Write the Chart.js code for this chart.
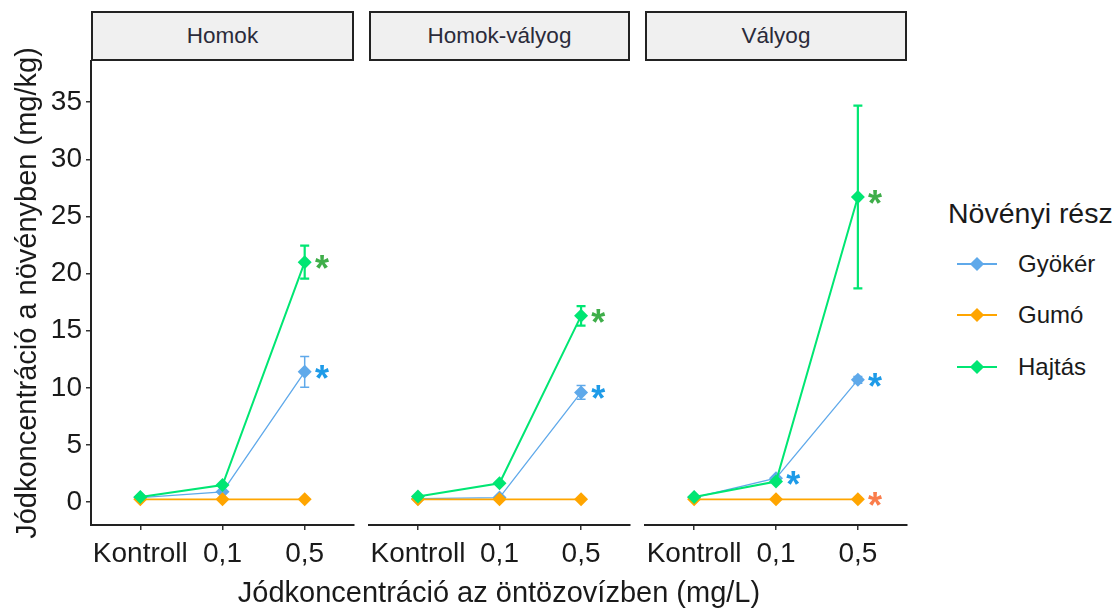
<!DOCTYPE html>
<html>
<head>
<meta charset="utf-8">
<script src="https://cdn.jsdelivr.net/npm/chart.js@4.4.0/dist/chart.umd.min.js"></script>
<style>
  body { margin: 0; background: #fff; font-family: "Liberation Sans", Arial, sans-serif; color: #1a1a1a; }
  #wrap { position: relative; width: 1118px; height: 609px; overflow: hidden; }
  canvas { position: absolute; top: 0; }
  .strip { position: absolute; top: 11px; height: 50px; box-sizing: border-box; border: 2px solid #222;
           background: #f0f0f0; display: flex; align-items: center; justify-content: center;
           font-size: 22.5px; color: #2b2b3a; }
  #xtitle { position: absolute; left: 91px; width: 816px; top: 578px; text-align: center;
            font-size: 29px; line-height: 29px; white-space: nowrap; }
  #legend { position: absolute; left: 948px; top: 199px; }
  #legend .ttl { font-size: 28.5px; line-height: 28px; white-space: nowrap; }
  #legend .row { position: absolute; left: 9px; height: 24px; width: 160px; }
  #legend .ln { position: absolute; left: 0; top: 11px; width: 40px; height: 2px; }
  #legend .dm { position: absolute; left: 15px; top: 7px; width: 10px; height: 10px; transform: rotate(45deg); }
  #legend .lb { position: absolute; left: 61px; top: 0; font-size: 24px; line-height: 24px; white-space: nowrap; }
</style>
</head>
<body>
<div id="wrap">
  <canvas id="p1" width="362" height="609" style="left:0px"></canvas>
  <canvas id="p2" width="276" height="609" style="left:362px"></canvas>
  <canvas id="p3" width="280" height="609" style="left:638px"></canvas>
  <div class="strip" style="left:91px;width:263px">Homok</div>
  <div class="strip" style="left:369px;width:261px">Homok-vályog</div>
  <div class="strip" style="left:645px;width:262px">Vályog</div>
  <div id="xtitle">Jódkoncentráció az öntözovízben (mg/L)</div>
  <div id="legend"></div>
</div>
<script>
Chart.defaults.font.family = '"Liberation Sans", Arial, sans-serif';
Chart.defaults.color = "#1a1a1a";

// adatok
const categories = ["Kontroll", "0,1", "0,5"];
const catPos = [1, 2, 3];
const yTicks = [0, 5, 10, 15, 20, 25, 30, 35];
const seriesNames = ["Gyökér", "Gumó", "Hajtás"];
const seriesColors = ["#5fa9ea", "#ffa500", "#00e673"];
const starColors = ["#1e9be8", "#fa7d4b", "#3fae4a"];

const homokGyoker = [0.4, 0.9, 11.4];
const homokGyokerErr = [0, 0, 1.35];
const homokGumo = [0.25, 0.25, 0.25];
const homokGumoErr = [0, 0, 0];
const homokHajtas = [0.45, 1.5, 21.0];
const homokHajtasErr = [0, 0, 1.45];
const homokStars = [[0, 2], [2, 2]];

const homokValyogGyoker = [0.3, 0.4, 9.6];
const homokValyogGyokerErr = [0, 0, 0.6];
const homokValyogGumo = [0.25, 0.25, 0.25];
const homokValyogGumoErr = [0, 0, 0];
const homokValyogHajtas = [0.5, 1.65, 16.3];
const homokValyogHajtasErr = [0, 0, 0.85];
const homokValyogStars = [[0, 2], [2, 2]];

const valyogGyoker = [0.4, 2.1, 10.7];
const valyogGyokerErr = [0, 0, 0.3];
const valyogGumo = [0.25, 0.25, 0.25];
const valyogGumoErr = [0, 0, 0];
const valyogHajtas = [0.45, 1.8, 26.7];
const valyogHajtasErr = [0, 0, 8.0];
const valyogStars = [[0, 1], [0, 2], [1, 2], [2, 2]];

const lineWidths = [1.3, 1.8, 2];
const drawOrder = [3, 2, 1];

// hibasavok
const errorBars = {
  id: "errorBars",
  beforeDatasetsDraw(chart) {
    const ctx = chart.ctx, xs = chart.scales.x, ys = chart.scales.y;
    chart.data.datasets.forEach(ds => {
      ctx.save();
      ctx.strokeStyle = ds.borderColor;
      ctx.lineWidth = ds.borderWidth + 0.2;
      ds.data.forEach((p, i) => {
        const e = ds.err[i];
        if (!e) return;
        const x = xs.getPixelForValue(p.x);
        const x0 = xs.getPixelForValue(p.x - 0.055), x1 = xs.getPixelForValue(p.x + 0.055);
        const top = ys.getPixelForValue(p.y + e), bot = ys.getPixelForValue(p.y - e);
        ctx.beginPath();
        ctx.moveTo(x, top); ctx.lineTo(x, bot);
        ctx.moveTo(x0, top); ctx.lineTo(x1, top);
        ctx.moveTo(x0, bot); ctx.lineTo(x1, bot);
        ctx.stroke();
      });
      ctx.restore();
    });
  }
};

// csillagok
const stars = {
  id: "stars",
  afterDatasetsDraw(chart, args, opts) {
    const ctx = chart.ctx, xs = chart.scales.x, ys = chart.scales.y;
    ctx.save();
    ctx.font = "bold 36px 'Liberation Sans', Arial, sans-serif";
    ctx.textAlign = "center";
    ctx.textBaseline = "alphabetic";
    const m = ctx.measureText("*");
    const off = (m.actualBoundingBoxAscent - m.actualBoundingBoxDescent) / 2;
    (opts.list || []).forEach(s => {
      const p = chart.data.datasets.find(d => d.idx === s[0]).data[s[1]];
      ctx.fillStyle = starColors[s[0]];
      ctx.fillText("*", xs.getPixelForValue(p.x + 0.21), ys.getPixelForValue(p.y) + off);
    });
    ctx.restore();
  }
};

function makeDs(idx, values, err) {
  return {
    idx: idx,
    label: seriesNames[idx],
    data: values.map((v, i) => ({ x: catPos[i], y: v })),
    err: err,
    borderColor: seriesColors[idx],
    backgroundColor: seriesColors[idx],
    borderWidth: lineWidths[idx],
    pointStyle: "rectRot",
    pointRadius: 7,
    pointBorderWidth: 0,
    tension: 0,
    order: drawOrder[idx],
  };
}

function panel(id, gy, gyErr, gu, guErr, ha, haErr, starList, showY, padLeft, padRight) {
  const ctx = document.getElementById(id).getContext("2d");
  return new Chart(ctx, {
    type: "line",
    data: { datasets: [makeDs(0, gy, gyErr), makeDs(1, gu, guErr), makeDs(2, ha, haErr)] },
    options: {
      responsive: false,
      animation: false,
      events: [],
      layout: { padding: { top: 61, bottom: 0, left: padLeft, right: padRight } },
      plugins: { legend: { display: false }, tooltip: { enabled: false }, stars: { list: starList } },
      scales: {
        x: {
          type: "linear",
          min: 0.4,
          max: 3.6,
          afterBuildTicks: s => { s.ticks = catPos.map(v => ({ value: v })); },
          afterFit: s => { s.height = 84; },
          ticks: { callback: v => categories[v - 1], autoSkip: false, maxRotation: 0, padding: 7,
                   font: { size: 28 }, color: "#1a1a1a" },
          grid: { drawOnChartArea: false, drawTicks: true, tickLength: 5, color: "#333", lineWidth: 1.5 },
          border: { display: true, color: "#222", width: 2 },
        },
        y: {
          display: showY,
          min: -2,
          max: 38.6,
          afterBuildTicks: s => { s.ticks = yTicks.map(v => ({ value: v })); },
          afterFit: s => { s.width = showY ? 91 : 0; },
          ticks: { padding: 4, font: { size: 28 }, color: "#1a1a1a" },
          grid: { drawOnChartArea: false, drawTicks: true, tickLength: 5, color: "#333", lineWidth: 1.5 },
          border: { display: true, color: "#222", width: 2 },
          title: { display: true, text: "Jódkoncentráció a növényben (mg/kg)", font: { size: 29 },
                   color: "#1a1a1a", padding: { top: 11, bottom: 0 } },
        },
      },
    },
    plugins: [errorBars, stars],
  });
}

window.homok = panel("p1", homokGyoker, homokGyokerErr, homokGumo, homokGumoErr, homokHajtas, homokHajtasErr,
  homokStars, true, 0, 8);
window.homokValyog = panel("p2", homokValyogGyoker, homokValyogGyokerErr, homokValyogGumo, homokValyogGumoErr,
  homokValyogHajtas, homokValyogHajtasErr, homokValyogStars, false, 7, 8);
window.valyog = panel("p3", valyogGyoker, valyogGyokerErr, valyogGumo, valyogGumoErr, valyogHajtas, valyogHajtasErr,
  valyogStars, false, 7, 11);

// jelmagyarazat
let leg = document.getElementById("legend");
let html = '<div class="ttl">Növényi rész</div>';
const rowTops = [53, 104, 156];
seriesNames.forEach((n, i) => {
  html += '<div class="row" style="top:' + rowTops[i] + 'px">' +
    '<div class="ln" style="background:' + seriesColors[i] + '"></div>' +
    '<div class="dm" style="background:' + seriesColors[i] + '"></div>' +
    '<div class="lb">' + n + '</div></div>';
});
leg.innerHTML = html;
</script>
</body>
</html>
